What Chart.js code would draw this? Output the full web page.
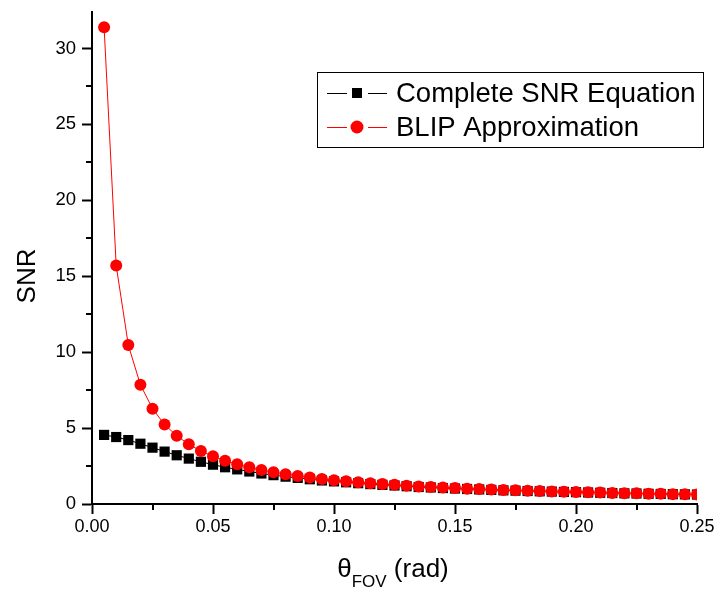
<!DOCTYPE html>
<html>
<head>
<meta charset="utf-8">
<script src="https://cdn.jsdelivr.net/npm/chart.js@4/dist/chart.umd.min.js"></script>
<style>
  body { margin: 0; background: #fff; }
  #snrChart { display: block; }
</style>
</head>
<body>
<canvas id="snrChart" width="715" height="591"></canvas>
<script>
// field of view angle (rad)
var theta = [0.005, 0.010, 0.015, 0.020, 0.025, 0.030, 0.035, 0.040, 0.045, 0.050,
             0.055, 0.060, 0.065, 0.070, 0.075, 0.080, 0.085, 0.090, 0.095, 0.100,
             0.105, 0.110, 0.115, 0.120, 0.125, 0.130, 0.135, 0.140, 0.145, 0.150,
             0.155, 0.160, 0.165, 0.170, 0.175, 0.180, 0.185, 0.190, 0.195, 0.200,
             0.205, 0.210, 0.215, 0.220, 0.225, 0.230, 0.235, 0.240, 0.245, 0.250];

var snrComplete = [4.55, 4.41, 4.21, 3.97, 3.71, 3.45, 3.21, 2.99, 2.78, 2.59,
                   2.42, 2.28, 2.14, 2.01, 1.90, 1.80, 1.72, 1.63, 1.55, 1.49,
                   1.43, 1.37, 1.31, 1.26, 1.22, 1.17, 1.12, 1.09, 1.05, 1.02,
                   0.99, 0.96, 0.93, 0.90, 0.88, 0.855, 0.836, 0.817, 0.798, 0.779,
                   0.759, 0.740, 0.721, 0.702, 0.692, 0.673, 0.663, 0.644, 0.634, 0.624];

var snrBlip = [31.4, 15.7, 10.47, 7.85, 6.28, 5.23, 4.49, 3.93, 3.49, 3.14,
               2.85, 2.62, 2.42, 2.24, 2.09, 1.96, 1.85, 1.74, 1.65, 1.57,
               1.50, 1.43, 1.37, 1.31, 1.26, 1.21, 1.16, 1.12, 1.08, 1.05,
               1.01, 0.98, 0.95, 0.92, 0.90, 0.87, 0.85, 0.83, 0.81, 0.79,
               0.77, 0.75, 0.73, 0.71, 0.70, 0.68, 0.67, 0.65, 0.64, 0.63];

var seriesNames = ["Complete SNR Equation", "BLIP Approximation"];
var xMinorTicks = [0.025, 0.075, 0.125, 0.175, 0.225];
var yMinorTicks = [2.5, 7.5, 12.5, 17.5, 22.5, 27.5, 32.5];

var FONT = "'Liberation Sans', Arial, sans-serif";

function toPoints(xs, ys) {
    var pts = [];
    for (var i = 0; i < xs.length; i++) {
        pts.push({ x: xs[i], y: ys[i] });
    }
    return pts;
}

// minor ticks, axis titles (with subscript) and the boxed legend
var extras = {
    id: 'extras',
    afterDraw: function (chart) {
        var ctx = chart.ctx;
        var xs = chart.scales.x, ys = chart.scales.y;
        var area = chart.chartArea;

        ctx.save();
        ctx.strokeStyle = '#000';
        ctx.lineWidth = 2;
        ctx.beginPath();
        xMinorTicks.forEach(function (v) {
            var px = Math.round(xs.getPixelForValue(v));
            ctx.moveTo(px, area.bottom);
            ctx.lineTo(px, area.bottom + 6);
        });
        yMinorTicks.forEach(function (v) {
            if (v > ys.max) return;
            var py = Math.round(ys.getPixelForValue(v));
            ctx.moveTo(area.left, py);
            ctx.lineTo(area.left - 6, py);
        });
        ctx.stroke();

        // y title
        ctx.fillStyle = '#000';
        ctx.font = '26px ' + FONT;
        ctx.save();
        ctx.translate(35, 276);
        ctx.rotate(-Math.PI / 2);
        ctx.textAlign = 'center';
        ctx.textBaseline = 'alphabetic';
        ctx.fillText('SNR', 0, 0);
        ctx.restore();

        // x title: θ_FOV (rad)
        ctx.textAlign = 'left';
        ctx.textBaseline = 'alphabetic';
        ctx.font = '26px ' + FONT;
        var w1 = ctx.measureText('\u03b8').width;
        var w3 = ctx.measureText(' (rad)').width;
        ctx.font = '17px ' + FONT;
        var w2 = ctx.measureText('FOV').width;
        var x0 = 393 - (w1 + w2 + w3) / 2;
        ctx.font = '26px ' + FONT;
        ctx.fillText('\u03b8', x0, 577);
        ctx.font = '17px ' + FONT;
        ctx.fillText('FOV', x0 + w1, 587);
        ctx.font = '26px ' + FONT;
        ctx.fillText(' (rad)', x0 + w1 + w2, 577);

        // legend
        ctx.lineWidth = 1;
        ctx.strokeStyle = '#000';
        ctx.strokeRect(317.5, 72.5, 386, 75);
        var rows = [93, 127];
        chart.data.datasets.forEach(function (ds, i) {
            var y = rows[i];
            ctx.strokeStyle = ds.borderColor;
            ctx.lineWidth = 1;
            ctx.beginPath();
            ctx.moveTo(327, y + 0.5);
            ctx.lineTo(347, y + 0.5);
            ctx.moveTo(368, y + 0.5);
            ctx.lineTo(387, y + 0.5);
            ctx.stroke();
            ctx.fillStyle = ds.pointBackgroundColor;
            if (ds.pointStyle === 'rect') {
                ctx.fillRect(352, y - 5, 10, 10);
            } else {
                ctx.beginPath();
                ctx.arc(357, y, 6.5, 0, Math.PI * 2);
                ctx.fill();
            }
            ctx.fillStyle = '#000';
            ctx.font = '27.5px ' + FONT;
            ctx.textBaseline = 'middle';
            ctx.fillText(ds.label, 396, y + 1);
        });
        ctx.restore();
    }
};

var ctx = document.getElementById('snrChart').getContext('2d');

var chart = new Chart(ctx, {
    type: 'line',
    data: {
        datasets: [{
            label: seriesNames[0],
            data: toPoints(theta, snrComplete),
            borderColor: '#000000',
            borderWidth: 1,
            pointStyle: 'rect',
            pointRadius: 7.2,
            pointBackgroundColor: '#000000',
            pointBorderWidth: 0,
            order: 1
        }, {
            label: seriesNames[1],
            data: toPoints(theta, snrBlip),
            borderColor: '#ff0000',
            borderWidth: 1,
            pointStyle: 'circle',
            pointRadius: 6,
            pointBackgroundColor: '#ff0000',
            pointBorderWidth: 0,
            order: 0
        }]
    },
    options: {
        responsive: false,
        animation: false,
        layout: { padding: { top: 12, right: 18, left: 0, bottom: 0 } },
        plugins: {
            legend: { display: false },
            tooltip: { enabled: false }
        },
        scales: {
            x: {
                type: 'linear',
                min: 0,
                max: 0.25,
                afterFit: function (s) {
                    s.height = 87;
                    s.paddingLeft = 0;
                    s.paddingRight = 0;
                },
                ticks: {
                    stepSize: 0.05,
                    includeBounds: false,
                    color: '#000',
                    padding: 2,
                    maxRotation: 0,
                    font: { family: FONT, size: 18 },
                    callback: function (v) { return v.toFixed(2); }
                },
                grid: {
                    drawOnChartArea: false,
                    drawTicks: true,
                    tickLength: 10,
                    tickWidth: 2,
                    tickColor: '#000'
                },
                border: { display: true, color: '#000', width: 2 }
            },
            y: {
                type: 'linear',
                min: 0,
                max: 32.4,
                afterFit: function (s) {
                    s.width = 92;
                    s.paddingTop = 0;
                    s.paddingBottom = 0;
                },
                ticks: {
                    stepSize: 5,
                    includeBounds: false,
                    color: '#000',
                    padding: 6,
                    font: { family: FONT, size: 18.5 }
                },
                grid: {
                    drawOnChartArea: false,
                    drawTicks: true,
                    tickLength: 10,
                    tickWidth: 2,
                    tickColor: '#000'
                },
                border: { display: true, color: '#000', width: 2 }
            }
        }
    },
    plugins: [extras]
});
</script>
</body>
</html>
